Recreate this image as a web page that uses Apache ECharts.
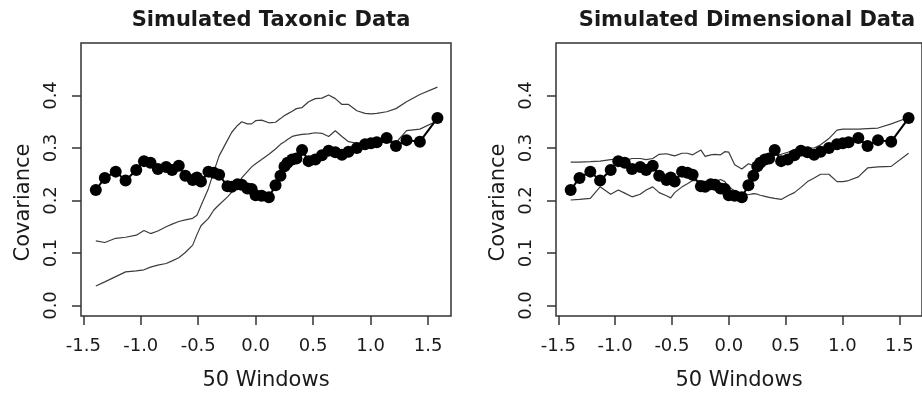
<!DOCTYPE html>
<html><head><meta charset="utf-8">
<script src="https://cdn.jsdelivr.net/npm/echarts@6/dist/echarts.min.js"></script>
<style>html,body{margin:0;padding:0;background:#fff}#c{width:922px;height:396px}</style>
</head><body><div id="c"></div>
<script>
const windowX = [-1.391,-1.313,-1.218,-1.132,-1.039,-0.972,-0.915,-0.851,-0.779,-0.727,-0.669,-0.612,-0.548,-0.511,-0.476,-0.411,-0.364,-0.318,-0.245,-0.208,-0.158,-0.121,-0.072,-0.035,0.000,0.052,0.115,0.173,0.216,0.251,0.277,0.318,0.355,0.404,0.461,0.519,0.577,0.635,0.693,0.751,0.808,0.881,0.952,1.004,1.054,1.140,1.221,1.313,1.429,1.582];
const observed = [0.220,0.243,0.255,0.238,0.258,0.275,0.272,0.260,0.264,0.258,0.266,0.247,0.239,0.244,0.236,0.255,0.253,0.249,0.227,0.226,0.231,0.230,0.223,0.222,0.210,0.209,0.206,0.229,0.247,0.265,0.272,0.278,0.280,0.296,0.275,0.278,0.286,0.295,0.292,0.287,0.293,0.300,0.307,0.309,0.311,0.319,0.304,0.315,0.312,0.357];
const taxonUpper = [0.123,0.120,0.128,0.130,0.134,0.143,0.137,0.142,0.150,0.155,0.160,0.163,0.166,0.172,0.190,0.223,0.255,0.285,0.315,0.330,0.343,0.350,0.346,0.346,0.352,0.353,0.348,0.349,0.356,0.362,0.365,0.370,0.375,0.377,0.388,0.394,0.395,0.401,0.394,0.383,0.383,0.371,0.366,0.365,0.366,0.369,0.375,0.388,0.402,0.416];
const taxonLower = [0.037,0.045,0.055,0.064,0.066,0.068,0.073,0.077,0.080,0.085,0.091,0.101,0.115,0.135,0.152,0.166,0.182,0.192,0.207,0.216,0.230,0.243,0.255,0.264,0.270,0.278,0.288,0.298,0.307,0.312,0.316,0.322,0.324,0.326,0.327,0.329,0.328,0.322,0.333,0.322,0.312,0.309,0.309,0.310,0.311,0.318,0.310,0.333,0.336,0.352];
const dimUpper = [0.273,0.273,0.274,0.275,0.278,0.279,0.276,0.280,0.280,0.278,0.280,0.288,0.289,0.287,0.285,0.290,0.290,0.287,0.296,0.284,0.287,0.288,0.287,0.293,0.292,0.268,0.260,0.270,0.267,0.272,0.277,0.281,0.284,0.286,0.288,0.292,0.297,0.300,0.300,0.300,0.306,0.318,0.334,0.336,0.336,0.336,0.337,0.338,0.346,0.358];
const dimLower = [0.201,0.202,0.204,0.226,0.212,0.220,0.214,0.207,0.212,0.220,0.226,0.215,0.209,0.205,0.215,0.226,0.232,0.238,0.238,0.236,0.233,0.236,0.240,0.236,0.226,0.218,0.214,0.211,0.213,0.212,0.210,0.208,0.206,0.204,0.202,0.209,0.215,0.225,0.236,0.243,0.250,0.250,0.236,0.236,0.238,0.245,0.262,0.264,0.265,0.290];
const xTicks = [-1.5,-1.0,-0.5,0.0,0.5,1.0,1.5];
const yTicks = [0.0,0.1,0.2,0.3,0.4];
const panelTitles = ['Simulated Taxonic Data','Simulated Dimensional Data'];
const xName = '50 Windows';
const yName = 'Covariance';

const FONT = 'DejaVu Sans';
const INK = '#1a1a1a';
const pair = arr => windowX.map((x,i)=>[x, arr[i]]);

const grids = [
  {left:81, top:43, width:370, height:282},
  {left:556, top:43, width:372, height:282}
].map(g => Object.assign({show:true, borderColor:'#333', borderWidth:1.5, backgroundColor:'transparent'}, g));

function xAxis(i){
  return {type:'value', gridIndex:i, min:-1.52, max:1.70, position:'bottom',
    splitLine:{show:false}, axisLine:{show:false, onZero:false},
    axisTick:{show:true, customValues:xTicks, length:9, lineStyle:{color:'#333', width:1.5}},
    axisLabel:{customValues:xTicks, formatter:v=>v.toFixed(1), fontSize:18, color:INK, margin:21, fontFamily:FONT},
    name:xName, nameLocation:'middle', nameGap:54, nameTextStyle:{fontSize:21, color:INK, fontFamily:FONT}};
}
function yAxis(i){
  return {type:'value', gridIndex:i, min:-0.02, max:0.50, position:'left',
    splitLine:{show:false}, axisLine:{show:false, onZero:false},
    axisTick:{show:true, customValues:yTicks, length:9, lineStyle:{color:'#333', width:1.5}},
    axisLabel:{customValues:yTicks, formatter:v=>v.toFixed(1), rotate:90, fontSize:18, color:INK, margin:21, fontFamily:FONT},
    name:yName, nameLocation:'middle', nameRotate:90, nameGap:47,
    nameTextStyle:{fontSize:21, color:INK, fontFamily:FONT, padding:[0,46,0,0]}};
}
function grayLine(i, arr){
  return {type:'line', xAxisIndex:i, yAxisIndex:i, data:pair(arr), showSymbol:false, symbol:'none',
    lineStyle:{color:'#3c3c3c', width:1.2}, silent:true, animation:false, z:2};
}
function dotLine(i){
  return {type:'line', xAxisIndex:i, yAxisIndex:i, data:pair(observed), symbol:'circle', symbolSize:12,
    lineStyle:{color:'#000', width:2}, itemStyle:{color:'#000'}, animation:false, z:3};
}

const chart = echarts.init(document.getElementById('c'), null, {renderer:'canvas'});
chart.setOption({
  backgroundColor:'#fff',
  animation:false,
  title:[
    {text:panelTitles[0], left:266, top:5, textAlign:'center', textStyle:{fontSize:21, fontWeight:'bold', color:INK, fontFamily:FONT}},
    {text:panelTitles[1], left:742, top:5, textAlign:'center', textStyle:{fontSize:21, fontWeight:'bold', color:INK, fontFamily:FONT}}
  ],
  grid:grids,
  xAxis:[xAxis(0), xAxis(1)],
  yAxis:[yAxis(0), yAxis(1)],
  series:[
    grayLine(0, taxonUpper), grayLine(0, taxonLower), dotLine(0),
    grayLine(1, dimUpper), grayLine(1, dimLower), dotLine(1)
  ]
});
</script></body></html>
